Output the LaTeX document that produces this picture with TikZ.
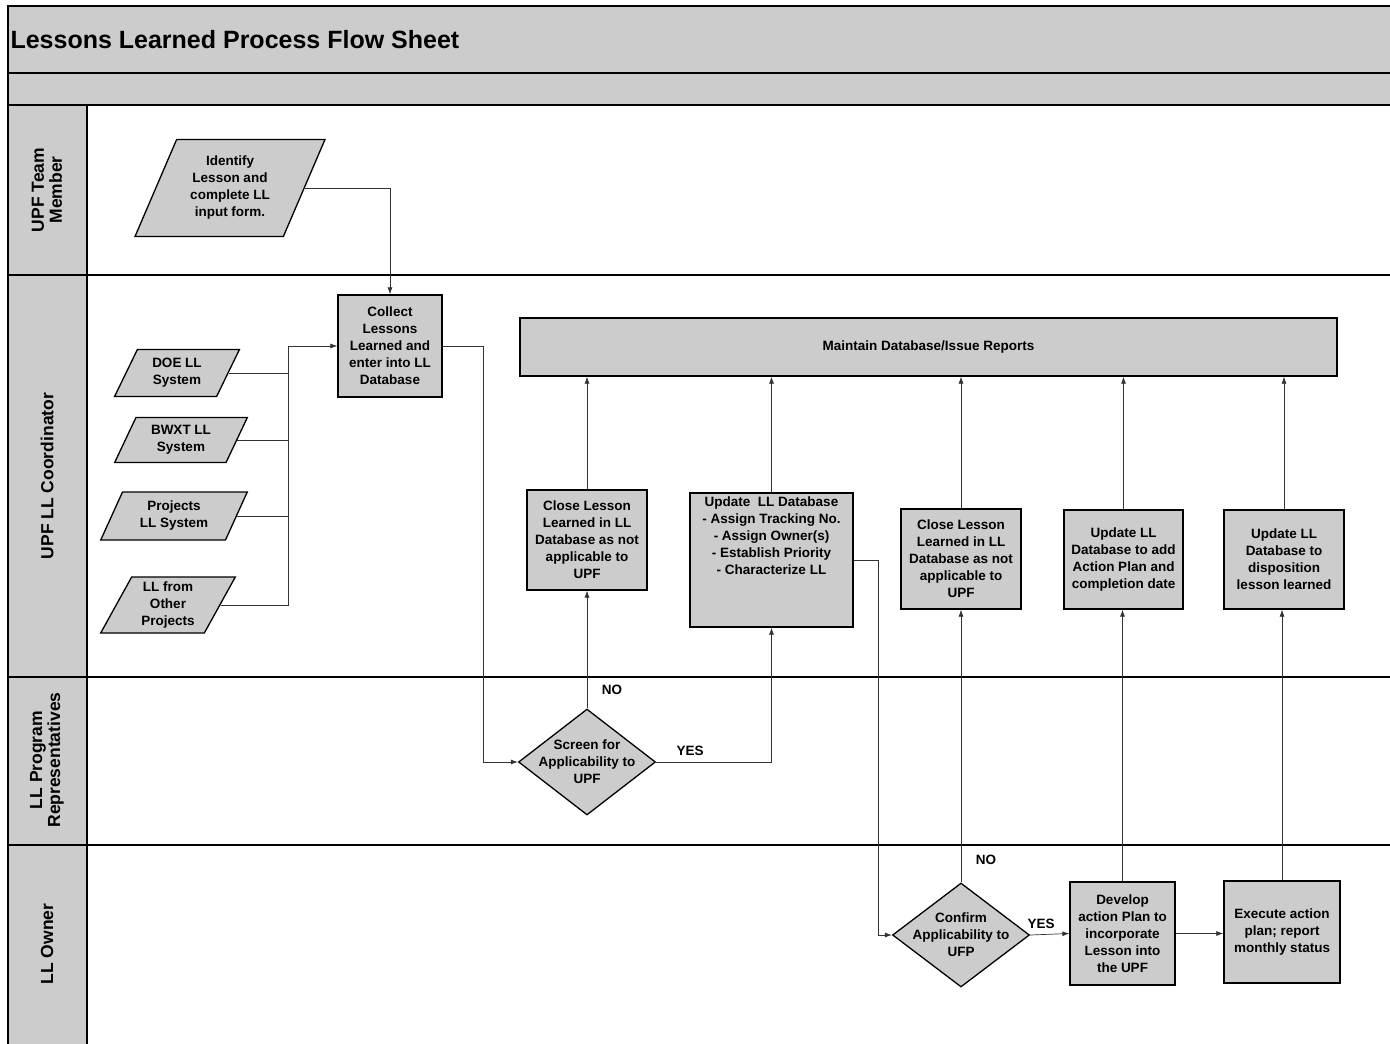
\documentclass[tikz,border=0pt]{standalone}
\usepackage{fontspec}
\setmainfont{Liberation Sans}
\usetikzlibrary{shapes.geometric,arrows.meta,positioning}

\begin{document}
\begin{tikzpicture}[x=1pt, y=-1pt,
  font=\bfseries\fontsize{13.5}{17}\selectfont,
  shade/.style={fill=black!20},
  lane/.style={line width=1.6pt},
  box/.style={draw, line width=1.3pt, shade, align=center, inner sep=1pt},
  data/.style={draw, line width=1.3pt, shade, trapezium, trapezium left angle=64, trapezium right angle=116, trapezium stretches=true, align=center, inner sep=0pt},
  decision/.style={draw, line width=1.3pt, shade, diamond, inner sep=0pt},
  lanelabel/.style={rotate=90, align=center, font=\bfseries\fontsize{17.5}{18}\selectfont},
  arr/.style={-{Latex[length=7pt,width=5pt]}, line width=0.7pt, black!80},
  link/.style={line width=0.7pt, black!80},
  yesno/.style={font=\bfseries\fontsize{13.5}{15}\selectfont}
]
  \useasboundingbox (0,0) rectangle (1390,1044);

  % swimlane frame
  \fill[shade] (8,6) rectangle (1390,105);
  \fill[shade] (8,105) rectangle (87,1044);
  \draw[lane] (1390,6) -- (8,6) -- (8,1044);
  \draw[lane] (8,73) -- (1390,73);
  \foreach \y in {105,275,677,845}
    \draw[lane] (8,\y) -- (1390,\y);
  \draw[lane] (87,105) -- (87,1044);

  \node[anchor=west, font=\bfseries\fontsize{25}{28}\selectfont] (title) at (7,40) {Lessons Learned Process Flow Sheet};

  \node[lanelabel] (teamlane) at (47,190) {UPF Team\\Member};
  \node[lanelabel] (coordlane) at (47,476) {UPF LL Coordinator};
  \node[lanelabel] (replane) at (47,760) {LL Program\\Representatives};
  \node[lanelabel] (ownerlane) at (47,944) {LL Owner};

  % inputs
  \node[data, minimum width=190pt, minimum height=97pt] (identify) at (230,188) {Identify\\Lesson and\\complete LL\\input form.};
  \node[data, minimum width=125pt, minimum height=47pt] (doe) at (177,373) {DOE LL\\System};
  \node[data, minimum width=133pt, minimum height=45pt] (bwxt) at (181,440) {BWXT LL\\System};
  \node[data, minimum width=148pt, minimum height=48pt] (projects) at (174,516) {Projects\\LL System};
  \node[data, minimum width=135pt, minimum height=56pt] (other) at (168,605) {LL from\\Other\\Projects};

  \node[box, minimum width=104pt, minimum height=102pt] (collect) at (390,346) {Collect\\Lessons\\Learned and\\enter into LL\\Database};
  \node[box, minimum width=817pt, minimum height=58pt] (maintain) at (928.5,347) {Maintain Database/Issue Reports};

  % actions
  \node[box, minimum width=120pt, minimum height=100pt] (closeone) at (587,540) {Close Lesson\\Learned in LL\\Database as not\\applicable to\\UPF};
  \node[box, inner sep=4pt] (update) at (771.5,560) {\parbox[c][126pt][t]{155pt}{\centering Update\ \ LL Database\\- Assign Tracking No.\\- Assign Owner(s)\\- Establish Priority\\- Characterize LL}};
  \node[box, minimum width=120pt, minimum height=100pt] (closetwo) at (961,559) {Close Lesson\\Learned in LL\\Database as not\\applicable to\\UPF};
  \node[box, minimum width=119pt, minimum height=99pt] (addplan) at (1123.5,559.5) {Update LL\\Database to add\\Action Plan and\\completion date};
  \node[box, minimum width=120pt, minimum height=99pt] (dispose) at (1284,559.5) {Update LL\\Database to\\disposition\\lesson learned};

  % decisions
  \node[decision, minimum width=137pt, minimum height=106pt,
    label={[align=center]center:{Screen for\\Applicability to\\UPF}}] (screen) at (587,762) {};
  \node[decision, minimum width=137pt, minimum height=104pt,
    label={[align=center]center:{Confirm\\Applicability to\\UFP}}] (confirm) at (961,935) {};

  \node[box, minimum width=105pt, minimum height=103pt] (develop) at (1122.5,933.5) {Develop\\action Plan to\\incorporate\\Lesson into\\the UPF};
  \node[box, minimum width=116pt, minimum height=102pt] (execute) at (1282,932) {Execute action\\plan; report\\monthly status};

  \node[yesno] (noone) at ([xshift=25pt,yshift=19pt]screen.north) {NO};
  \node[yesno] (yesone) at ([xshift=34pt,yshift=11pt]screen.east) {YES};
  \node[yesno] (notwo) at ([xshift=25pt,yshift=23pt]confirm.north) {NO};
  \node[yesno] (yestwo) at ([xshift=11pt,yshift=11pt]confirm.east) {YES};

  % flow
  \draw[arr] (identify.east) -| (collect.north);
  \coordinate (merge) at (288,346);
  \foreach \src in {doe,bwxt,projects,other}
    \draw[link] (\src.east) -| (merge);
  \draw[arr] (merge) -- (collect.west);
  \draw[arr] (collect.east) -- ++(41,0) |- (screen.west);

  \draw[arr] (screen.north) -- (screen.north |- closeone.south);
  \draw[arr] (screen.east) -| (update.south);
  \draw[arr] (update.east) -- ++(25,0) |- (confirm.west);
  \draw[arr] (confirm.north) -- (confirm.north |- closetwo.south);
  \draw[arr] (confirm.east) -- (develop.west);
  \draw[arr] (develop.north) -- (develop.north |- addplan.south);
  \draw[arr] (develop.east) -- (develop.east -| execute.west);
  \draw[arr] (execute.north) -- (execute.north |- dispose.south);

  \foreach \act in {closeone,update,closetwo,addplan,dispose}
    \draw[arr] (\act.north) -- (\act.north |- maintain.south);
\end{tikzpicture}
\end{document}
